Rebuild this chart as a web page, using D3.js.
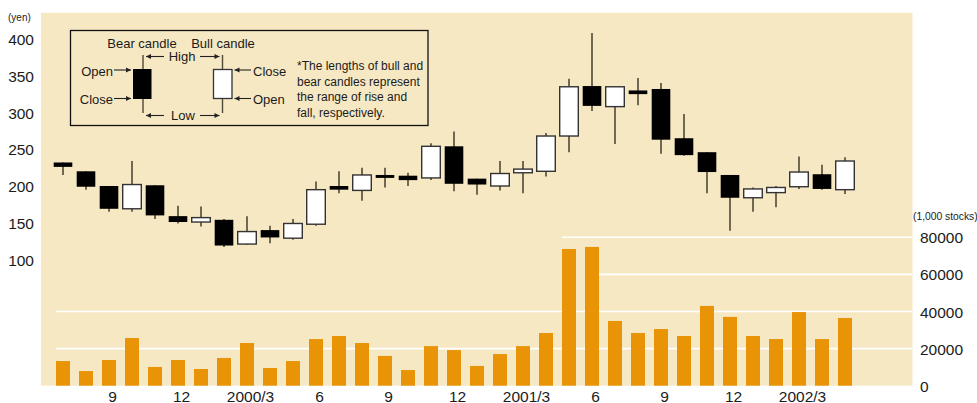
<!DOCTYPE html>
<html>
<head>
<meta charset="utf-8">
<script src="https://cdn.jsdelivr.net/npm/d3@7/dist/d3.min.js"></script>
<style>
  html, body { margin: 0; padding: 0; background: #fff; }
  svg { display: block; font-family: "Liberation Sans", Arial, Helvetica, sans-serif; }
</style>
</head>
<body>
<svg id="chart" width="977" height="403"></svg>
<script>
// Monthly candles, Jul 1999 – May 2002
const months = [
  "1999/7","1999/8","1999/9","1999/10","1999/11","1999/12",
  "2000/1","2000/2","2000/3","2000/4","2000/5","2000/6","2000/7","2000/8","2000/9","2000/10","2000/11","2000/12",
  "2001/1","2001/2","2001/3","2001/4","2001/5","2001/6","2001/7","2001/8","2001/9","2001/10","2001/11","2001/12",
  "2002/1","2002/2","2002/3","2002/4","2002/5"
];
const openPrice  = [232,220,200,169,201,159,151,154,121,140,129,148,200,194,215,214,211,254,210,200,218,220,268,336,308,330,332,265,246,215,184,191,199,216,195];
const highPrice  = [232,220,200,234,201,173,172,155,159,146,155,206,220,225,225,218,258,274,210,234,234,272,346,408,335,347,340,298,246,215,198,200,240,229,239];
const lowPrice   = [215,195,165,165,155,149,145,117,120,122,127,146,190,180,198,200,208,193,188,194,190,213,246,302,257,310,244,241,190,139,165,171,196,195,189];
const closePrice = [226,199,169,202,160,151,157,119,138,130,149,195,195,215,211,208,254,203,202,217,223,268,335,309,335,325,263,242,219,184,196,198,219,196,234];
// Trading volume (1,000 stocks)
const volume = [13300,7900,13850,25700,10100,13850,9000,14950,23000,9550,13300,25150,26800,23000,16050,8450,21350,19200,10650,17050,21350,28400,73700,74800,34900,28400,30550,26800,43000,37100,26800,25150,39700,25150,36500];

const tickMonths = ["1999/9","1999/12","2000/3","2000/6","2000/9","2000/12","2001/3","2001/6","2001/9","2001/12","2002/3"];
const tickLabels = ["9","12","2000/3","6","9","12","2001/3","6","9","12","2002/3"];
const priceTicks = [100,150,200,250,300,350,400];
const volumeTicks = [0,20000,40000,60000,80000];

const svg = d3.select("#chart");
const textColor = "#1b1b1b";
const panel = { left: 41, right: 912.5, top: 12.7, bottom: 385.7 };

// panel background
svg.append("rect")
  .attr("x", panel.left).attr("y", panel.top)
  .attr("width", panel.right - panel.left).attr("height", panel.bottom - panel.top)
  .attr("fill", "#f7e8c4");

const x = d3.scaleBand().domain(months).range([56, 852]).paddingInner(9 / 23).paddingOuter(0);
const yPrice = d3.scaleLinear().domain([100, 400]).range([259.5, 39]);
const yVol = d3.scaleLinear().domain([0, 80000]).range([panel.bottom, 237.3]);

// volume gridlines (upper lines stop short of the candle area)
const gridStart = {
  20000: x(months[0]),
  40000: x(months[0]),
  60000: x("2001/6") + x.bandwidth(),
  80000: x("2001/5")
};
svg.append("g").selectAll("line")
  .data(volumeTicks.filter(v => v > 0))
  .join("line")
  .attr("x1", d => gridStart[d]).attr("x2", panel.right)
  .attr("y1", d => yVol(d)).attr("y2", d => yVol(d))
  .attr("stroke", "#ffffff").attr("stroke-width", 1.6);

// volume bars
svg.append("g").selectAll("rect")
  .data(months)
  .join("rect")
  .attr("x", d => x(d))
  .attr("width", x.bandwidth())
  .attr("y", (d, i) => yVol(volume[i]))
  .attr("height", (d, i) => yVol(0) - yVol(volume[i]))
  .attr("fill", "#e89406");

// candles
const candleW = 18.6;
const cx = d => x(d) + x.bandwidth() / 2;
const candles = svg.append("g");
candles.selectAll("line.wick")
  .data(months)
  .join("line")
  .attr("class", "wick")
  .attr("x1", d => cx(d)).attr("x2", d => cx(d))
  .attr("y1", (d, i) => yPrice(highPrice[i]))
  .attr("y2", (d, i) => yPrice(lowPrice[i]))
  .attr("stroke", "#4f4838").attr("stroke-width", 1.6);
candles.selectAll("rect.body")
  .data(months)
  .join("rect")
  .attr("class", "body")
  .attr("x", d => cx(d) - candleW / 2)
  .attr("width", candleW)
  .attr("y", (d, i) => yPrice(Math.max(openPrice[i], closePrice[i])))
  .attr("height", (d, i) => Math.max(2.5, Math.abs(yPrice(openPrice[i]) - yPrice(closePrice[i]))))
  .attr("fill", (d, i) => closePrice[i] < openPrice[i] ? "#000" : "#fff")
  .attr("stroke", (d, i) => closePrice[i] < openPrice[i] ? "none" : "#333")
  .attr("stroke-width", 1.4);

// left price axis
const leftAxis = d3.axisLeft(yPrice).tickValues(priceTicks).tickSize(0).tickPadding(0);
const gl = svg.append("g").attr("transform", "translate(34,0)").call(leftAxis);
gl.select(".domain").remove();
gl.selectAll("text").attr("fill", textColor).attr("font-size", "15.5px")
  .attr("font-family", "Liberation Sans, Arial, sans-serif").attr("dy", "0.36em");

// right volume axis
const rightAxis = d3.axisRight(yVol).tickValues(volumeTicks).tickSize(0).tickPadding(0).tickFormat(d3.format("d"));
const gr = svg.append("g").attr("transform", "translate(920,0)").call(rightAxis);
gr.select(".domain").remove();
gr.selectAll("text").attr("fill", textColor).attr("font-size", "15.5px")
  .attr("font-family", "Liberation Sans, Arial, sans-serif").attr("dy", "0.36em");

// month axis
const bottomAxis = d3.axisBottom(x).tickValues(tickMonths).tickSize(0).tickPadding(0)
  .tickFormat(d => tickLabels[tickMonths.indexOf(d)]);
const gb = svg.append("g").attr("transform", "translate(3.5,391)").call(bottomAxis);
gb.select(".domain").remove();
gb.selectAll("text").attr("fill", textColor).attr("font-size", "15.5px")
  .attr("font-family", "Liberation Sans, Arial, sans-serif").attr("dy", "0.71em");

// unit labels
svg.append("text").attr("x", 8).attr("y", 20.5).attr("font-size", "10px").attr("fill", textColor).text("(yen)");
svg.append("text").attr("x", 913).attr("y", 220).attr("font-size", "10.3px").attr("fill", textColor).text("(1,000 stocks)");

// legend box explaining the candle notation
const lg = svg.append("g");
lg.append("rect").attr("x", 70.5).attr("y", 30.5).attr("width", 357.5).attr("height", 95)
  .attr("fill", "none").attr("stroke", "#111").attr("stroke-width", 1.3);

function txt(xp, yp, s, anchor, size) {
  lg.append("text").attr("x", xp).attr("y", yp).attr("text-anchor", anchor || "start")
    .attr("font-size", size || "13px").attr("fill", textColor).text(s);
}
function arrow(x1, y1, x2, y2) {
  // line from (x1,y1) with a small head at (x2,y2)
  lg.append("line").attr("x1", x1).attr("y1", y1).attr("x2", x2).attr("y2", y2)
    .attr("stroke", "#222").attr("stroke-width", 1.1);
  const dir = Math.sign(x2 - x1);
  lg.append("path")
    .attr("d", `M${x2},${y2} L${x2 - dir * 5},${y2 - 2.5} L${x2 - dir * 5},${y2 + 2.5} Z`)
    .attr("fill", "#222");
}
txt(142, 47.5, "Bear candle", "middle");
txt(223, 47.5, "Bull candle", "middle");
// sample candles
lg.append("line").attr("x1", 143).attr("x2", 143).attr("y1", 55).attr("y2", 113).attr("stroke", "#4f4838").attr("stroke-width", 1.4);
lg.append("rect").attr("x", 133).attr("y", 69).attr("width", 18.5).attr("height", 30).attr("fill", "#000");
lg.append("line").attr("x1", 222.5).attr("x2", 222.5).attr("y1", 55).attr("y2", 113).attr("stroke", "#4f4838").attr("stroke-width", 1.4);
lg.append("rect").attr("x", 213.5).attr("y", 69.5).attr("width", 18.5).attr("height", 29).attr("fill", "#fff").attr("stroke", "#333").attr("stroke-width", 1.3);
// High / Low
arrow(164, 56.5, 146, 56.5); txt(182, 61, "High", "middle"); arrow(200, 56.5, 219.5, 56.5);
arrow(164, 115.5, 146, 115.5); txt(183, 120, "Low", "middle"); arrow(200, 115.5, 219.5, 115.5);
// Open / Close pointers
txt(113, 75.5, "Open", "end"); arrow(114, 70, 131, 70);
txt(113, 103.5, "Close", "end"); arrow(114, 98.5, 131, 98.5);
arrow(251, 70, 234.5, 70); txt(253, 75.5, "Close", "start");
arrow(251, 98.5, 234.5, 98.5); txt(253, 103.5, "Open", "start");
// note
const note = ["*The lengths of bull and", "bear candles represent", "the range of rise and", "fall, respectively."];
note.forEach((s, i) => txt(297, 70 + i * 15.7, s, "start", "12px"));
</script>
</body>
</html>
